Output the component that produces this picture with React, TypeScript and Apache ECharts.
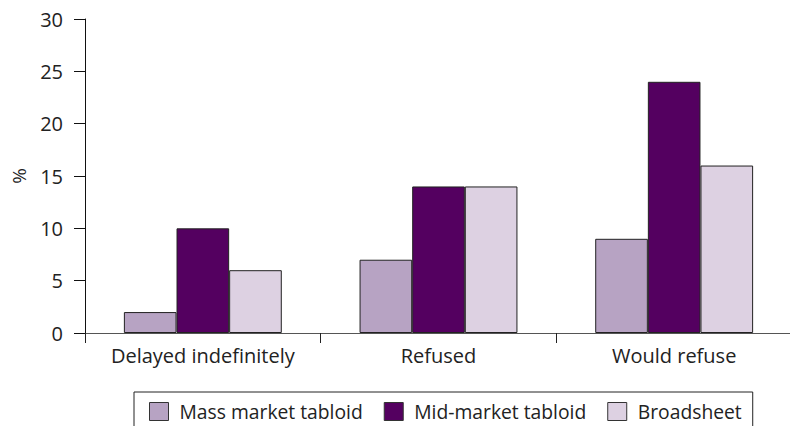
import React, { useEffect, useRef } from "react";
import * as echarts from "echarts";

const categories = ["Delayed indefinitely", "Refused", "Would refuse"];
const seriesNames = ["Mass market tabloid", "Mid-market tabloid", "Broadsheet"];
const massMarket = [2, 7, 9];
const midMarket = [10, 14, 24];
const broadsheet = [6, 14, 16];
const colors = ["#b7a3c3", "#540060", "#ddd1e2"];

const FONT = "'Open Sans', 'DejaVu Sans', sans-serif";

export default function App() {
  const ref = useRef<HTMLDivElement>(null);
  useEffect(() => {
    if (!ref.current) return;
    const chart = echarts.init(ref.current, undefined, { renderer: "svg" });
    const data = [massMarket, midMarket, broadsheet];
    chart.setOption({
      animation: false,
      backgroundColor: "#ffffff",
      grid: {
        left: 85,
        top: 19,
        width: 707,
        height: 314,
        containLabel: false,
        outerBoundsMode: "none",
      },
      legend: {
        left: 134,
        top: 392,
        orient: "horizontal",
        itemWidth: 19,
        itemHeight: 18,
        itemGap: 21,
        padding: [10, 11, 20, 15],
        borderColor: "#222",
        borderWidth: 1,
        icon: "rect",
        itemStyle: { borderColor: "#333", borderWidth: 1 },
        textStyle: { fontFamily: FONT, fontSize: 19.3, color: "#222", padding: [0, 0, 0, 6] },
        data: seriesNames,
      },
      xAxis: {
        type: "category",
        data: categories,
        boundaryGap: true,
        axisLine: { lineStyle: { color: "#555", width: 1 } },
        axisTick: { show: true, length: 10, lineStyle: { color: "#222" } },
        axisLabel: { fontFamily: FONT, fontSize: 20, color: "#222", margin: 12, interval: 0 },
      },
      yAxis: {
        type: "value",
        min: 0,
        max: 30,
        interval: 5,
        name: "%",
        nameLocation: "middle",
        nameGap: 57,
        nameRotate: 90,
        nameTextStyle: { fontFamily: FONT, fontSize: 19, color: "#222" },
        axisLine: { show: true, lineStyle: { color: "#111", width: 1 } },
        axisTick: { show: true, length: 11, lineStyle: { color: "#111" } },
        axisLabel: { fontFamily: FONT, fontSize: 20, color: "#222", margin: 22 },
        splitLine: { show: false },
      },
      series: data.map((d, i) => ({
        name: seriesNames[i],
        type: "bar",
        data: d,
        barGap: "0%",
        barCategoryGap: "33%",
        itemStyle: { color: colors[i], borderColor: "#222", borderWidth: 1 },
      })),
    });
    return () => chart.dispose();
  }, []);
  return <div ref={ref} style={{ width: 790, height: 426, position: "absolute", left: 0, top: 0 }} />;
}
